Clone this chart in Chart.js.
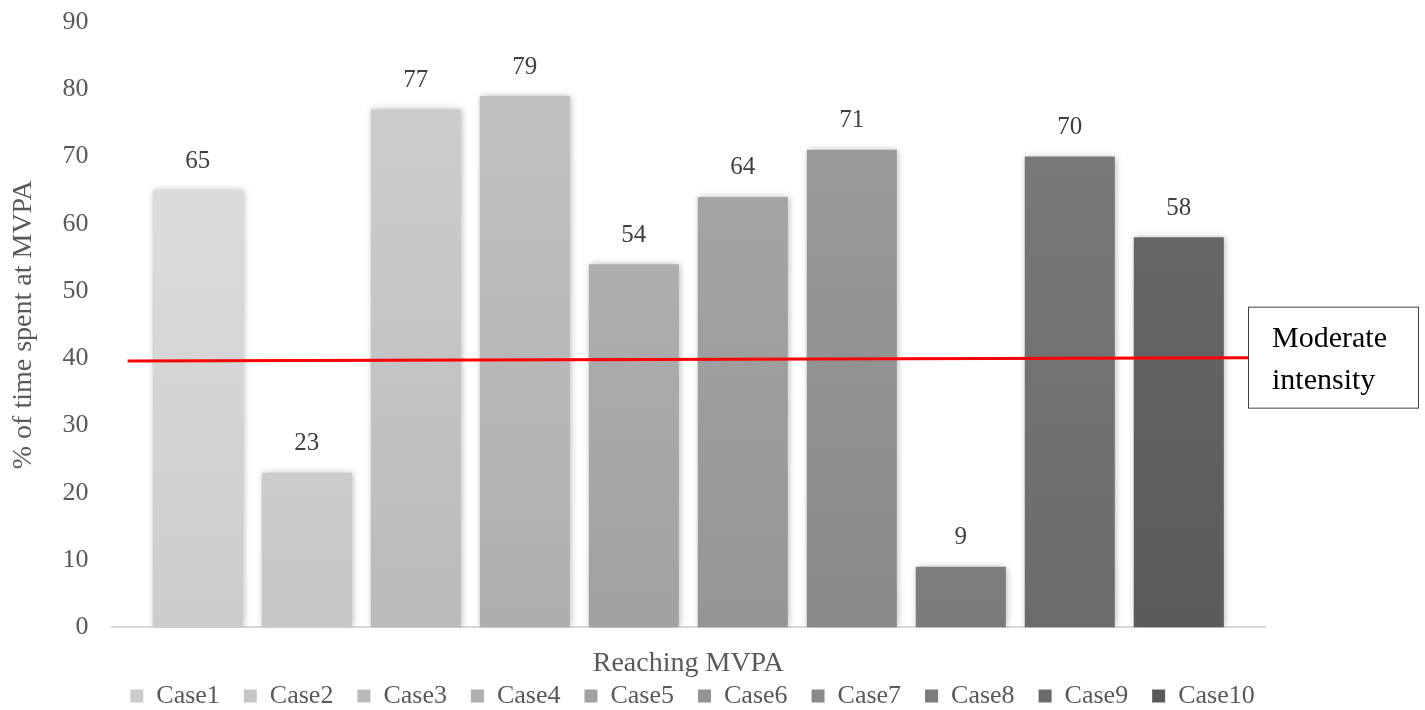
<!DOCTYPE html>
<html>
<head>
<meta charset="utf-8">
<script src="https://cdn.jsdelivr.net/npm/chart.js@4"></script>
<style>
  html, body { margin: 0; padding: 0; background: #fff; }
  #wrap { width: 1425px; height: 710px; }
</style>
</head>
<body>
<div id="wrap"><canvas id="barChart" width="1425" height="710"></canvas></div>
<script>
const categories = ["Reaching MVPA"];
const caseNames = ["Case1", "Case2", "Case3", "Case4", "Case5", "Case6", "Case7", "Case8", "Case9", "Case10"];
const caseValues = [65, 23, 77, 79, 54, 64, 71, 9, 70, 58];
const topColors = ["#e2e2e2", "#dcdcdc", "#d0d0d0", "#c4c4c4", "#b7b7b7", "#aaaaaa", "#9e9e9e", "#909090", "#7c7c7c", "#6b6b6b"];
const bottomColors = ["#cccccc", "#c6c6c6", "#bababa", "#aeaeae", "#a1a1a1", "#959595", "#898989", "#7b7b7b", "#6b6b6b", "#5b5b5b"];
const yTicks = [0, 10, 20, 30, 40, 50, 60, 70, 80, 90];
const lineStart = 39.6, lineEnd = 40.1;
const lineLabel = ["Moderate", "intensity"];

const serif = "'Liberation Serif', 'Times New Roman', serif";

// gradient fill for each bar
function barFill(i) {
    return function (ctx) {
        const area = ctx.chart.chartArea;
        if (!area) return topColors[i];
        const g = ctx.chart.ctx.createLinearGradient(0, area.top, 0, area.bottom);
        g.addColorStop(0, topColors[i]);
        g.addColorStop(1, bottomColors[i]);
        return g;
    };
}

const datasets = caseNames.map(function (name, i) {
    return {
        label: name,
        data: [caseValues[i]],
        backgroundColor: barFill(i),
        borderWidth: 0
    };
});

// soft shadow around bars
const shadowPlugin = {
    id: "shadow",
    beforeDatasetsDraw(chart) {
        const c = chart.ctx;
        c.save();
        c.shadowColor = "rgba(0,0,0,0.3)";
        c.shadowBlur = 7;
        c.shadowOffsetX = 1;
        c.shadowOffsetY = 0;
    },
    afterDatasetsDraw(chart) {
        chart.ctx.restore();
    }
};

// value labels above bars
const labelPlugin = {
    id: "valueLabels",
    afterDatasetsDraw(chart) {
        const c = chart.ctx;
        c.save();
        c.font = "25px " + serif;
        c.fillStyle = "#404040";
        c.textAlign = "center";
        c.textBaseline = "middle";
        chart.data.datasets.forEach(function (ds, i) {
            const bar = chart.getDatasetMeta(i).data[0];
            c.fillText(String(ds.data[0]), bar.x, bar.y - 29);
        });
        c.restore();
    }
};

// red threshold line + text box
const thresholdPlugin = {
    id: "threshold",
    afterDraw(chart) {
        const c = chart.ctx;
        const y = chart.scales.y;
        const area = chart.chartArea;
        const x0 = area.left + 16;
        const x1 = area.right - 17;
        const y0 = y.getPixelForValue(lineStart);
        const y1 = y.getPixelForValue(lineEnd);
        c.save();
        c.strokeStyle = "#ff0000";
        c.lineWidth = 3;
        c.beginPath();
        c.moveTo(x0, y0);
        c.lineTo(x1, y1);
        c.stroke();

        const bx = x1, by = y1 - 51, bw = 170, bh = 101;
        c.fillStyle = "#fff";
        c.fillRect(bx, by, bw, bh);
        c.strokeStyle = "#404040";
        c.lineWidth = 1;
        c.strokeRect(bx + 0.5, by + 0.5, bw, bh);
        c.fillStyle = "#000";
        c.font = "30px " + serif;
        c.textAlign = "left";
        c.textBaseline = "middle";
        c.fillText(lineLabel[0], bx + 24, by + 32);
        c.fillText(lineLabel[1], bx + 24, by + 74);
        c.restore();
    }
};

function noEdgePadding(scale) {
    scale.paddingTop = 0;
    scale.paddingBottom = 0;
}

new Chart(document.getElementById("barChart"), {
    type: "bar",
    data: { labels: categories, datasets: datasets },
    options: {
        responsive: false,
        animation: false,
        categoryPercentage: 0.945,
        barPercentage: 0.826,
        layout: { padding: { top: 22, right: 40, left: 0, bottom: -9 } },
        plugins: {
            legend: {
                position: "bottom",
                labels: {
                    boxWidth: 13,
                    boxHeight: 13,
                    padding: 24,
                    color: "#595959",
                    font: { family: serif, size: 26 },
                    generateLabels(chart) {
                        return chart.data.datasets.map(function (ds, i) {
                            return {
                                text: ds.label,
                                fillStyle: bottomColors[i],
                                strokeStyle: bottomColors[i],
                                lineWidth: 0,
                                datasetIndex: i,
                                fontColor: "#595959"
                            };
                        });
                    }
                }
            },
            tooltip: { enabled: false }
        },
        scales: {
            x: {
                grid: { display: false, drawTicks: false },
                border: { color: "#d9d9d9", width: 2 },
                ticks: { display: false },
                title: {
                    display: true,
                    text: "Reaching MVPA",
                    color: "#595959",
                    font: { family: serif, size: 28 },
                    padding: { top: 19, bottom: -21 }
                }
            },
            y: {
                min: 0,
                max: 90,
                afterBuildTicks(axis) {
                    axis.ticks = yTicks.map(function (v) { return { value: v }; });
                },
                afterFit: noEdgePadding,
                grid: { display: false, drawTicks: false },
                border: { display: false },
                ticks: {
                    color: "#595959",
                    padding: 23,
                    font: { family: serif, size: 26 }
                },
                title: {
                    display: true,
                    text: "% of time spent at MVPA",
                    color: "#595959",
                    font: { family: serif, size: 28 },
                    padding: { top: 7, bottom: -1 }
                }
            },
            yRight: {
                type: "linear",
                position: "right",
                display: true,
                grid: { display: false, drawTicks: false },
                border: { display: false },
                ticks: { display: false },
                afterFit(scale) {
                    scale.width = 120;
                    noEdgePadding(scale);
                }
            }
        }
    },
    plugins: [shadowPlugin, labelPlugin, thresholdPlugin]
});
</script>
</body>
</html>
